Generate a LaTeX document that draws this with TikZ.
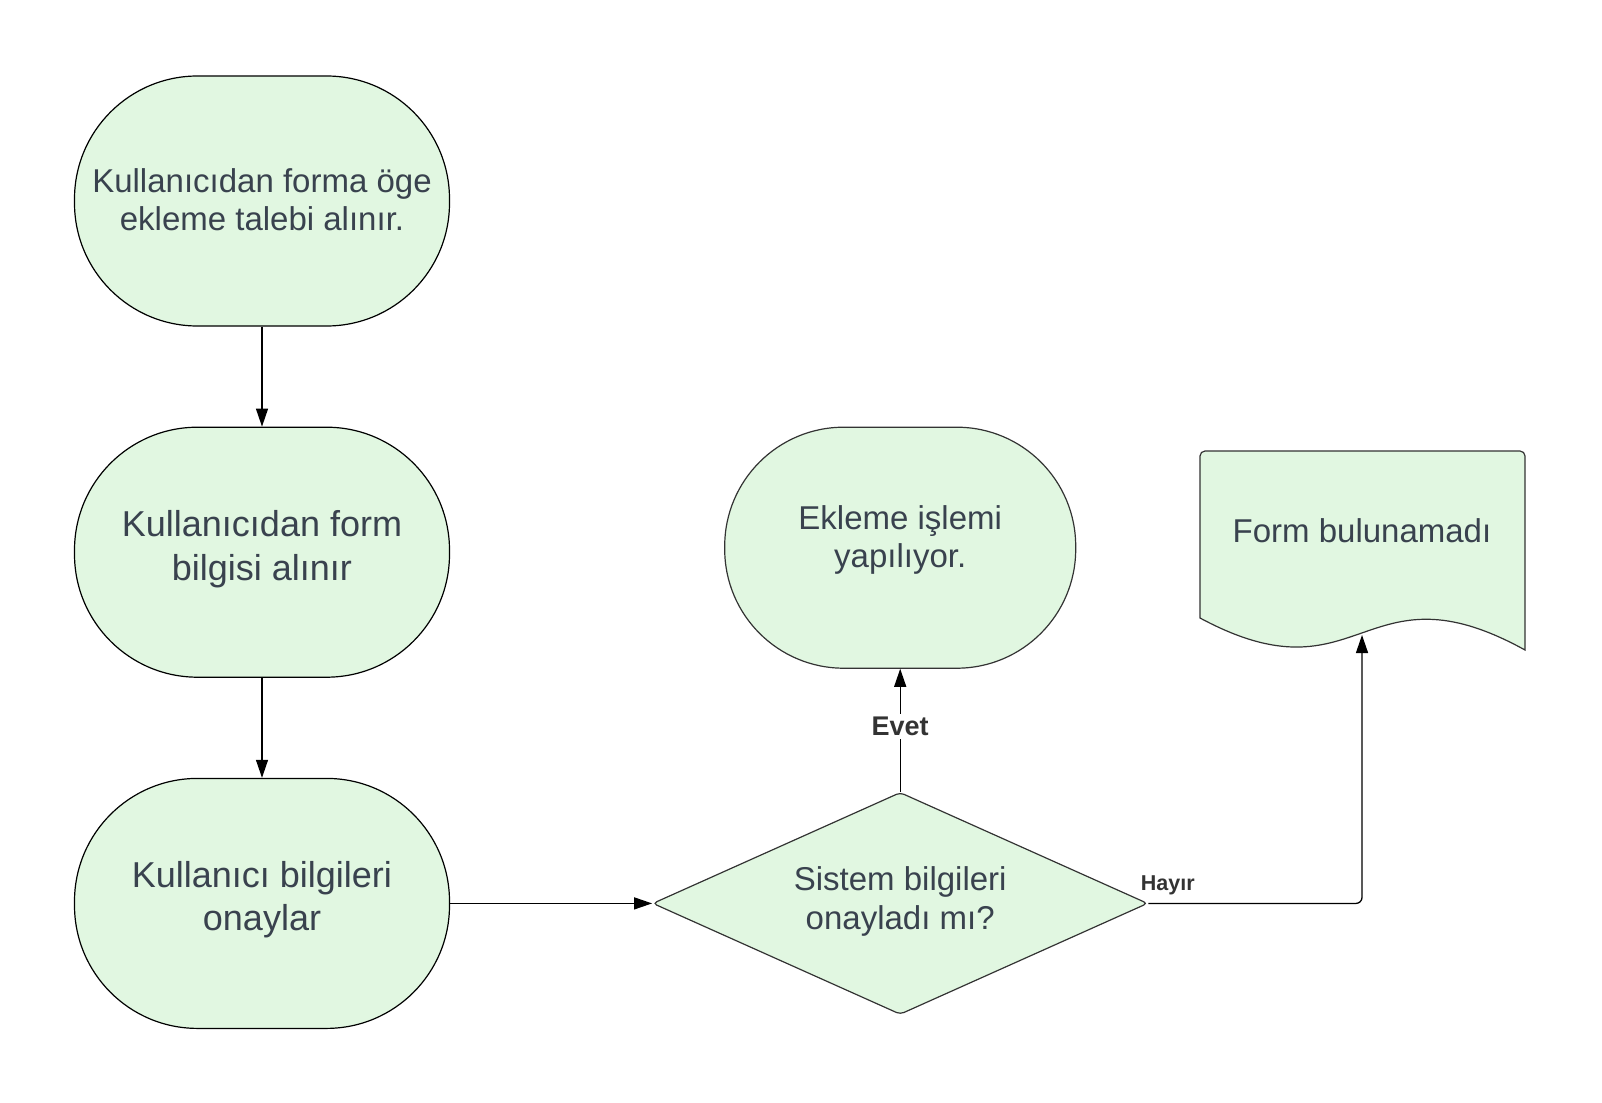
\documentclass[tikz,border=0pt]{standalone}
\usepackage{fontspec}
\setmainfont{Liberation Sans}
\usetikzlibrary{arrows.meta,shapes.geometric,positioning}
\definecolor{termfill}{HTML}{E1F7E1}
\definecolor{termtext}{HTML}{39424E}
\definecolor{termline}{HTML}{333333}
% fixed line box so the text sits where it should
\newcommand{\nodetop}{\rule{0pt}{36pt}}
\newcommand{\nodebot}[1]{\rule[-#1]{0pt}{#1}}

\begin{document}
\begin{tikzpicture}
 [x=1pt, y=-1pt,
 term/.style={
  rectangle,
  rounded corners=123pt,
  draw=black, % border
  line width=1.2pt,
  fill=termfill,
  text=termtext,
  minimum width=375pt,
  minimum height=250pt,
  align=center,
  font=\fontsize{36}{43.4}\selectfont},
 decision/.style={
  diamond,
  aspect=2.23,
  rounded corners=4pt,
  draw=termline,
  line width=1.2pt,
  fill=termfill,
  text=termtext,
  minimum width=495pt,
  minimum height=222pt,
  inner sep=0pt,
  align=center,
  font=\fontsize{33}{38.5}\selectfont},
 answer/.style={font=\bfseries\fontsize{27}{30}\selectfont, text=termline, fill=white, inner sep=3pt},
 tip/.style={-{Triangle[length=18pt,width=12pt]}, line width=1.3pt}]
\useasboundingbox (0,0) rectangle (1602,1102);
% document shape behind its text
\draw[draw=termline, line width=1.2pt, fill=termfill]
  (1200,618) [rounded corners=5pt] -- (1200,451) -- (1525,451) [sharp corners] -- (1525,650)
  .. controls (1362,560) and (1362,705) .. (1200,618) -- cycle;
\coordinate (formwave) at (1362,635);
\node (request) [term, font=\fontsize{33}{38.5}\selectfont] at (262,201)
  {\nodetop Kullanıcıdan forma öge\\ekleme talebi alınır.\nodebot{15pt}};
\node (forminfo) [term, below=100pt of request] {\nodetop Kullanıcıdan form\\bilgisi alınır\nodebot{23.6pt}};
\node (approve) [term, below=100pt of forminfo] {\nodetop Kullanıcı bilgileri\\onaylar\nodebot{24.6pt}};
\node (check) [decision, right=202pt of approve] {\nodetop Sistem bilgileri\\onayladı mı?\nodebot{23pt}};
\node (adding) [term, draw=termline, minimum width=351pt, minimum height=241pt, rounded corners=119pt,
  font=\fontsize{33}{38.5}\selectfont, above=123pt of check] {\nodetop Ekleme işlemi\\yapılıyor.\nodebot{34pt}};
\node (notfound) [minimum width=325pt, minimum height=160pt, text=termtext,
  font=\fontsize{33}{40}\selectfont] at (1362,531) {Form bulunamadı};
\path (request)  edge[tip] (forminfo) ;
\path (forminfo)  edge[tip] (approve) ;
\path (approve)  edge[tip] (check) ;
\path (check)  edge[tip] node[answer, pos=0.53] {Evet} (adding) ;
\draw[tip, rounded corners=6pt] (check.east) -| (formwave)
  node[pos=0, anchor=south west, xshift=-8pt, yshift=8pt, inner sep=0pt,
  font=\bfseries\fontsize{21.5}{26}\selectfont, text=termline] {Hayır};
\end{tikzpicture}
\end{document}
